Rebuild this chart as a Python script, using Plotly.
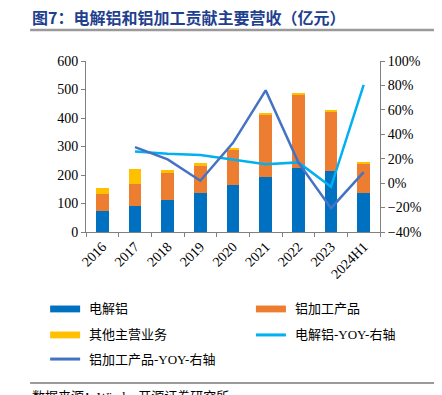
import plotly.graph_objects as go

categories = ["2016", "2017", "2018", "2019", "2020", "2021", "2022", "2023", "2024H1"]
electrolytic = [74, 92, 112, 138, 165, 192, 224, 215, 138]
processing = [59, 78, 94, 95, 125, 221, 257, 205, 103]
other = [22, 51, 12, 9, 6, 6, 6, 7, 5]
electrolytic_yoy = [None, 26, 24, 23, 19, 15.5, 17, -3, 80.5]
processing_yoy = [None, 29.5, 19.5, 2, 33, 76, 17, -20.5, 9]

series_names = ["电解铝", "铝加工产品", "其他主营业务", "电解铝-YOY-右轴", "铝加工产品-YOY-右轴"]
colors = ["#0070C0", "#ED7D31", "#FFC000", "#00B0F0", "#4472C4"]

serif = "Liberation Serif, Times New Roman, Noto Sans CJK SC"
legend_font = "Liberation Serif, Noto Sans CJK SC"
cjk = "Noto Sans CJK SC"

fig = go.Figure()
for vals, name, col in zip([electrolytic, processing, other], series_names[:3], colors[:3]):
    fig.add_bar(x=categories, y=vals, name=name, marker_color=col,
                marker_line_width=0, width=0.39)
fig.add_scatter(x=categories, y=electrolytic_yoy, name=series_names[3], yaxis="y2",
                mode="lines", line=dict(color=colors[3], width=2.5))
fig.add_scatter(x=categories, y=processing_yoy, name=series_names[4], yaxis="y2",
                mode="lines", line=dict(color=colors[4], width=2.5))

fig.update_layout(
    width=442, height=395,
    margin=dict(l=78, r=70, t=53, b=171, autoexpand=False),
    barmode="stack",
    plot_bgcolor="white", paper_bgcolor="white",
    showlegend=False,
    font=dict(family=serif, size=14, color="#000000"),
    xaxis=dict(showline=True, linecolor="#808080", linewidth=1,
               ticks="outside", tickcolor="#808080", ticklen=4,
               tickson="boundaries", tickangle=-45, automargin=False,
               tickfont=dict(family=serif, size=14)),
    yaxis=dict(range=[0, 600], dtick=100, showline=True, linecolor="#808080",
               ticks="outside", tickcolor="#808080", ticklen=4, showgrid=False,
               zeroline=False, automargin=False, tickfont=dict(family=serif, size=14)),
    yaxis2=dict(range=[-40, 100], dtick=20, overlaying="y", side="right",
                showline=True, linecolor="#808080", ticks="outside", tickcolor="#808080",
                ticklen=4, showgrid=False, zeroline=False, ticksuffix="%", automargin=False,
                tickfont=dict(family=serif, size=14)),
)

# Custom legend (two columns)
legend_pos = [(-0.122, -0.450), (0.578, -0.450), (-0.122, -0.602), (0.578, -0.602), (-0.122, -0.743)]
for i, (name, col) in enumerate(zip(series_names, colors)):
    lx, ly = legend_pos[i]
    if i < 3:
        fig.add_shape(type="rect", xref="paper", yref="paper", x0=lx, x1=lx + 0.102,
                      y0=ly - 0.02, y1=ly + 0.02, fillcolor=col, line_width=0)
    else:
        fig.add_shape(type="line", xref="paper", yref="paper", x0=lx, x1=lx + 0.102,
                      y0=ly, y1=ly, line=dict(color=col, width=3))
    fig.add_annotation(text=name, xref="paper", yref="paper", x=lx + 0.125, y=ly,
                       xanchor="left", yanchor="middle", showarrow=False,
                       font=dict(family=legend_font, size=13, color="#000000"))

fig.add_annotation(text="<b>图7：电解铝和铝加工贡献主要营收（亿元）</b>", xref="paper", yref="paper",
                   x=-0.19, y=1.257, xanchor="left", yanchor="middle", showarrow=False,
                   font=dict(family=cjk, size=16, color="#1F3F8F"))
fig.add_shape(type="line", xref="paper", yref="paper", x0=-0.19, x1=1.22,
              y0=1.181, y1=1.181, line=dict(color="#9a9a9a", width=2.5))
fig.add_shape(type="line", xref="paper", yref="paper", x0=-0.19, x1=1.22,
              y0=-0.883, y1=-0.883, line=dict(color="#9a9a9a", width=2))
fig.add_annotation(text="数据来源：Wind、开源证券研究所", xref="paper", yref="paper",
                   x=-0.19, y=-0.905, xanchor="left", yanchor="top", showarrow=False,
                   font=dict(family=legend_font, size=13, color="#000000"))

fig.write_html("out.html")
